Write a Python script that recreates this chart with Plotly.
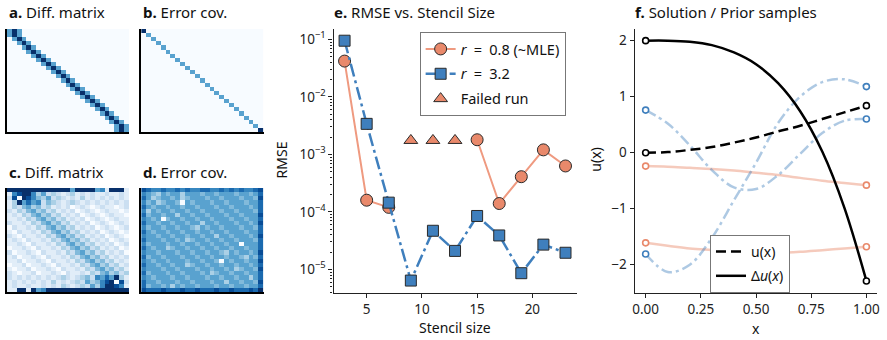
import plotly.graph_objects as go

W, H = 887, 340
N = 25

# ---------------- data: panel e (RMSE vs stencil size) ----------------
stencil = [3, 5, 7, 9, 11, 13, 15, 17, 19, 21, 23]
rmse_r08 = [0.042, 1.6e-4, 1.2e-4, None, None, None, 1.8e-3, 1.4e-4, 4.1e-4, 1.2e-3, 6.3e-4]
rmse_r32 = [0.095, 3.4e-3, 1.45e-4, 6.4e-6, 4.7e-5, 2.1e-5, 8.5e-5, 3.9e-5, 8.6e-6, 2.7e-5, 1.95e-5]
failed_x = [9, 11, 13]
failed_y = [1.75e-3, 1.75e-3, 1.75e-3]
e_xticks = [5, 10, 15, 20]
e_yticks = [1e-5, 1e-4, 1e-3, 1e-2, 1e-1]
e_yticktext = ["10<sup>−5</sup>", "10<sup>−4</sup>", "10<sup>−3</sup>", "10<sup>−2</sup>", "10<sup>−1</sup>"]

# ---------------- data: panel f (solution / prior samples) ----------------
xs = [0.0, 0.1, 0.2, 0.3, 0.4, 0.5, 0.6, 0.7, 0.8, 0.9, 1.0]
u_vals = [0.0, 0.01, 0.05, 0.10, 0.18, 0.27, 0.38, 0.48, 0.60, 0.72, 0.84]
lap_vals = [2.0, 2.0, 1.98, 1.92, 1.79, 1.58, 1.24, 0.74, 0.02, -0.98, -2.29]
prior_blue_1 = [0.76, 0.52, 0.13, -0.31, -0.62, -0.65, -0.40, -0.02, 0.35, 0.57, 0.60]
prior_blue_2 = [-1.81, -2.13, -2.0, -1.52, -0.85, -0.18, 0.53, 1.0, 1.26, 1.31, 1.18]
prior_orange_1 = [-0.24, -0.25, -0.27, -0.29, -0.32, -0.36, -0.40, -0.45, -0.50, -0.54, -0.58]
prior_orange_2 = [-1.61, -1.66, -1.71, -1.74, -1.77, -1.79, -1.79, -1.77, -1.74, -1.71, -1.68]
f_xticks = [0.0, 0.25, 0.5, 0.75, 1.0]
f_xticktext = ["0.00", "0.25", "0.50", "0.75", "1.00"]
f_yticks = [-2, -1, 0, 1, 2]

# ---------------- data: heatmaps (levels 0..9 on Blues) ----------------
a_band = [5, 9, 5]                       # offsets -1, 0, +1
a_centres = [1] + list(range(1, 24)) + [23]
b_diag = [9] + [5] * 23 + [9]

c_top_rows = ["9999999999999599995619991",
              "1689963523212312121121121",
              "2809864352321213121212121",
              "1395756243212321212121212"]
c_bottom_rows = ["2121212121232123426575931",
                 "1212121213121232534689082",
                 "1211211212132123253699861",
                 "1199195699999999999999999"]
c_right = [5, 3, 4, 2, 3, 1, 2, 1, 2, 0, 1, 2, 1, 0, 1, 2, 1, 1, 0, 1, 2, 1, 1, 0, 1]
c_left = [5, 4, 2, 3, 1, 2, 1, 1, 2, 0, 1, 2, 1, 1, 0, 2, 1, 1, 0, 1, 2, 1, 0, 1, 1]

d_lower = [5, 5, 4, 5, 5, 4, 5, 5, 5, 4, 5, 5, 4, 5, 5, 5, 4, 5, 5, 4, 5, 5, 4, 5]   # k=-24..-1
d_upper = [5, 4, 5, 5, 4, 5, 5, 4, 5, 5, 5, 4, 5, 5, 4, 5, 5, 5, 4, 5, 5, 4, 5, 5, 5]  # k=0..24
d_top = "8766766767667766767676678"
d_bottom = "8777877787787778778777879"
d_left = "8676767676767676767676778"
d_right = "8787778787787778787877879"
d_light = [(1, 3), (2, 2), (2, 8), (1, 8), (3, 3), (5, 1), (6, 7), (8, 12), (9, 11), (11, 15),
           (12, 9), (14, 5), (15, 17), (16, 21), (18, 9), (19, 19), (20, 14), (21, 22), (22, 17), (23, 6)]
d_white = [(3, 8), (7, 4), (13, 20), (17, 16)]

# ---------------- build matrices ----------------
def blank():
    return [[0] * N for _ in range(N)]

z_a = blank()
for i, c in enumerate(a_centres):
    for off, v in zip((-1, 0, 1), a_band):
        z_a[i][c + off] = v

z_b = blank()
for i, v in enumerate(b_diag):
    z_b[i][i] = v

z_c = blank()
for i in range(N):
    if i < 4:
        z_c[i] = [int(ch) for ch in c_top_rows[i]]
    elif i > 20:
        z_c[i] = [int(ch) for ch in c_bottom_rows[i - 21]]
    else:
        z_c[i] = [c_right[j - i] if j >= i else c_left[i - j] for j in range(N)]

d_prof = d_lower + d_upper
z_d = [[d_prof[j - i + 24] for j in range(N)] for i in range(N)]
for (i, j) in d_light:
    z_d[i][j] = 3
for j in range(N):
    z_d[0][j] = int(d_top[j])
    z_d[24][j] = int(d_bottom[j])
for i in range(N):
    z_d[i][0] = int(d_left[i])
    z_d[i][24] = int(d_right[i])
for (i, j) in d_white:
    z_d[i][j] = 0

# ---------------- styling ----------------
FONT = "Noto Sans"
BLUES = [[0.0, 'rgb(247,251,255)'], [0.125, 'rgb(222,235,247)'], [0.25, 'rgb(198,219,239)'],
         [0.375, 'rgb(158,202,225)'], [0.5, 'rgb(107,174,214)'], [0.625, 'rgb(66,146,198)'],
         [0.75, 'rgb(33,113,181)'], [0.875, 'rgb(8,81,156)'], [1.0, 'rgb(8,48,107)']]
ORANGE = '#e9896b'
ORANGE_L = '#ef9a80'
BLUE = '#3f7fbd'
EDGE = '#2a2a2a'


def dx(x0, x1):
    return [x0 / W, x1 / W]


def dy(y0, y1):
    return [1 - y1 / H, 1 - y0 / H]


fig = go.Figure()

for k, z in enumerate([z_a, z_b, z_c, z_d], start=1):
    fig.add_trace(go.Heatmap(z=z, colorscale=BLUES, zmin=0, zmax=9, showscale=False,
                             xaxis='x' if k == 1 else f'x{k}', yaxis='y' if k == 1 else f'y{k}',
                             hoverinfo='skip'))

# panel e
fig.add_trace(go.Scatter(x=stencil, y=rmse_r08, mode='lines+markers', xaxis='x5', yaxis='y5',
                         name='<i>r</i>\u2002=\u20020.8 (~MLE)', connectgaps=False, legendgroup='g1',
                         line=dict(color=ORANGE_L, width=2),
                         marker=dict(symbol='circle', size=12, color=ORANGE, line=dict(color=EDGE, width=1)),
                         legend='legend'))
fig.add_trace(go.Scatter(x=stencil, y=rmse_r32, mode='lines+markers', xaxis='x5', yaxis='y5',
                         name='<i>r</i>\u2002=\u20023.2', legendgroup='g2',
                         line=dict(color=BLUE, width=2.5, dash='13px,4px,3px,4px'),
                         marker=dict(symbol='square', size=11, color=BLUE, line=dict(color=EDGE, width=1)),
                         legend='legend'))
fig.add_trace(go.Scatter(x=failed_x, y=failed_y, mode='markers', xaxis='x5', yaxis='y5',
                         name='Failed run', legendgroup='g3',
                         marker=dict(symbol='triangle-up', size=12, color=ORANGE, line=dict(color=EDGE, width=1)),
                         legend='legend'))

# panel f: prior samples
for ys, col, mcol, dash in [(prior_orange_1, 'rgba(233,137,107,0.45)', ORANGE, 'solid'),
                            (prior_orange_2, 'rgba(233,137,107,0.45)', ORANGE, 'solid'),
                            (prior_blue_1, 'rgba(63,127,189,0.42)', BLUE, '11px,4px,3px,4px'),
                            (prior_blue_2, 'rgba(63,127,189,0.42)', BLUE, '11px,4px,3px,4px')]:
    fig.add_trace(go.Scatter(x=xs, y=ys, mode='lines', xaxis='x6', yaxis='y6', showlegend=False,
                             line=dict(color=col, width=2.5, dash=dash, shape='spline', smoothing=1)))
    fig.add_trace(go.Scatter(x=[xs[0], xs[-1]], y=[ys[0], ys[-1]], mode='markers', xaxis='x6', yaxis='y6',
                             showlegend=False,
                             marker=dict(symbol='circle', size=6, color='white', line=dict(color=mcol, width=1.6))))

fig.add_trace(go.Scatter(x=xs, y=u_vals, mode='lines', xaxis='x6', yaxis='y6', name='u(x)',
                         legendgroup='h1',
                         line=dict(color='black', width=2.5, dash='10px,5px', shape='spline', smoothing=1),
                         legend='legend2'))
fig.add_trace(go.Scatter(x=xs, y=lap_vals, mode='lines', xaxis='x6', yaxis='y6',
                         name='Δ<i>u</i>(<i>x</i>)', legendgroup='h2',
                         line=dict(color='black', width=2.5, shape='spline', smoothing=1),
                         legend='legend2'))
for ys in (u_vals, lap_vals):
    fig.add_trace(go.Scatter(x=[xs[0], xs[-1]], y=[ys[0], ys[-1]], mode='markers', xaxis='x6', yaxis='y6',
                             showlegend=False,
                             marker=dict(symbol='circle', size=6, color='white', line=dict(color='black', width=1.6))))

# ---------------- axes ----------------
hm_boxes = [((5, 128), (29, 132)), ((140, 263), (29, 132)), ((5, 128), (188, 292)), ((140, 263), (188, 292))]
layout_axes = {}
for k, (bx, by) in enumerate(hm_boxes, start=1):
    xn = 'xaxis' if k == 1 else f'xaxis{k}'
    yn = 'yaxis' if k == 1 else f'yaxis{k}'
    common = dict(showticklabels=False, ticks='', showline=True, linecolor='black', linewidth=1.5,
                  showgrid=False, zeroline=False, fixedrange=True)
    layout_axes[xn] = dict(domain=dx(*bx), range=[-0.5, 24.5], anchor='y' if k == 1 else f'y{k}', **common)
    layout_axes[yn] = dict(domain=dy(*by), range=[24.5, -0.5], anchor='x' if k == 1 else f'x{k}', **common)

axis_style = dict(showline=True, linecolor='#222', linewidth=1.2, ticks='outside', ticklen=4,
                  tickwidth=1.1, tickcolor='#222', showgrid=False, zeroline=False,
                  tickfont=dict(size=13.5, color='#222'))

minor_vals = [m * 10.0 ** p for p in range(-6, 0) for m in range(2, 10)]
layout_axes['xaxis5'] = dict(domain=dx(333.4, 577.8), range=[2, 24], tickvals=e_xticks, anchor='y5', **axis_style)
layout_axes['yaxis5'] = dict(domain=dy(28.5, 293), type='log', range=[-5.41, -0.81], tickvals=e_yticks,
                             ticktext=e_yticktext, anchor='x5',
                             minor=dict(tickvals=minor_vals, ticks='outside', ticklen=2, tickcolor='#222'),
                             **axis_style)
layout_axes['xaxis6'] = dict(domain=dx(636.2, 880.4), range=[-0.05, 1.05], tickvals=f_xticks,
                             ticktext=f_xticktext, anchor='y6', **axis_style)
layout_axes['yaxis6'] = dict(domain=dy(28.9, 292.7), range=[-2.5, 2.21], tickvals=f_yticks, anchor='x6',
                             **axis_style)

# ---------------- annotations ----------------
def ann(text, x, y, size=15, angle=0, xanchor='left'):
    return dict(text=text, x=x / W, y=1 - y / H, xref='paper', yref='paper', showarrow=False,
                xanchor=xanchor, yanchor='middle', textangle=angle, font=dict(size=size, color='#111'))

annotations = [
    ann('<b>a.</b> Diff. matrix', 5, 12),
    ann('<b>b.</b> Error cov.', 140, 12),
    ann('<b>c.</b> Diff. matrix', 5, 172),
    ann('<b>d.</b> Error cov.', 140, 172),
    ann('<b>e.</b> RMSE vs. Stencil Size', 332, 12),
    ann('<b>f.</b> Solution / Prior samples', 635, 12),
    ann('RMSE', 281, 160, size=14, angle=-90, xanchor='center'),
    ann('Stencil size', 455.6, 327, size=14, xanchor='center'),
    ann('u(x)', 596, 160, size=14, angle=-90, xanchor='center'),
    ann('x', 758.3, 328, size=14, xanchor='center'),
]

fig.update_layout(
    width=W, height=H, autosize=False,
    margin=dict(l=0, r=0, t=0, b=0),
    paper_bgcolor='white', plot_bgcolor='white',
    font=dict(family=FONT, size=13, color='#111'),
    showlegend=True,
    legend=dict(x=420 / W, y=1 - 32 / H, xanchor='left', yanchor='top', bgcolor='white',
                bordercolor='#777', borderwidth=1, font=dict(size=14.5), tracegroupgap=3),
    legend2=dict(x=712 / W, y=1 - 235 / H, xanchor='left', yanchor='top', bgcolor='white',
                 bordercolor='#777', borderwidth=1, font=dict(size=14), tracegroupgap=3),
    annotations=annotations,
    **layout_axes,
)

fig.write_html("out.html", config={'displayModeBar': False},
               post_script="document.body.style.margin='0px';document.body.style.overflow='hidden';")
